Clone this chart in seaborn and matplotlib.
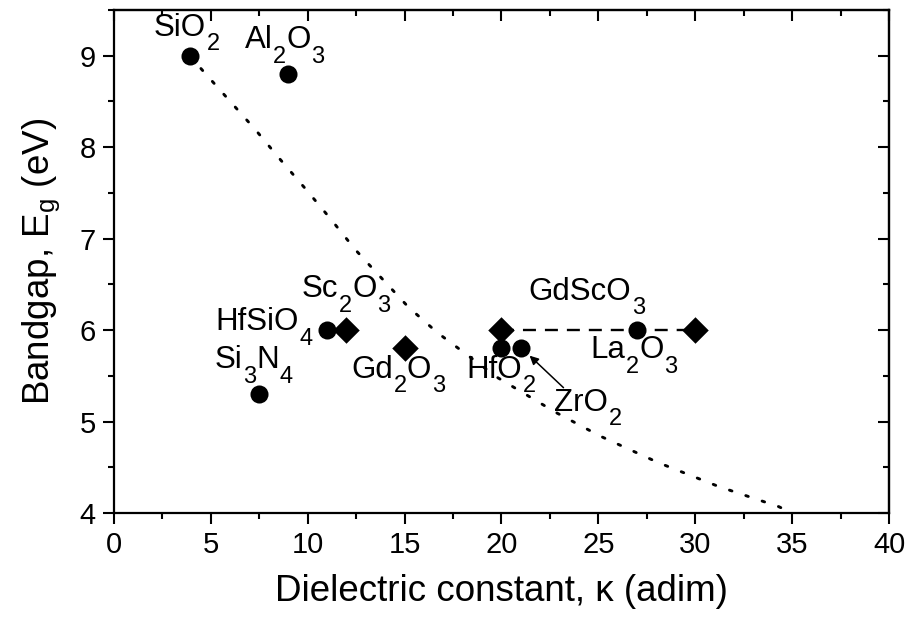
import matplotlib
matplotlib.use('Agg')
import matplotlib.pyplot as plt
from matplotlib.ticker import MultipleLocator
import seaborn as sns

# Oxides plotted as circles
circle_k = [3.9, 9.0, 7.5, 11.0, 20.0, 21.0, 27.0]
circle_eg = [9.0, 8.8, 5.3, 6.0, 5.8, 5.8, 6.0]

# Oxides plotted as diamonds (Sc2O3, Gd2O3, GdScO3 x2)
diamond_k = [12.0, 15.0, 20.0, 30.0]
diamond_eg = [6.0, 5.8, 6.0, 6.0]

# GdScO3 range (dashed)
gdsco_k = [20.0, 30.0]
gdsco_eg = [6.0, 6.0]

# Trend curve (dotted)
curve_k = [3.9, 4.65, 7.3, 8.6, 9.9, 11.2, 12.45, 13.1, 15.2, 16.7, 19.8, 22.8, 25.1, 28.1, 31.2, 34.3, 35.0]
curve_eg = [9.0, 8.82, 8.19, 7.86, 7.54, 7.21, 6.88, 6.73, 6.25, 5.97, 5.48, 5.10, 4.84, 4.55, 4.29, 4.07, 4.0]

# label pieces (normal, sub, normal, sub...) and where they sit (left, baseline)
labels = [
    (['SiO', '2'], 2.05, 9.22),
    (['Al', '2', 'O', '3'], 6.75, 9.08),
    (['Sc', '2', 'O', '3'], 9.7, 6.36),
    (['HfSiO', '4'], 5.25, 6.0),
    (['Si', '3', 'N', '4'], 5.2, 5.58),
    (['Gd', '2', 'O', '3'], 12.25, 5.48),
    (['HfO', '2'], 18.2, 5.48),
    (['ZrO', '2'], 22.7, 5.12),
    (['GdScO', '3'], 21.4, 6.33),
    (['La', '2', 'O', '3'], 24.6, 5.69),
]

MAIN_FS = 22.5
SUB_FS = 17
SUB_DROP = 10.5  # points below the baseline


def chem_label(ax, parts, x, y):
    prev = ax.text(x, y, parts[0], fontsize=MAIN_FS, ha='left', va='baseline')
    for i, p in enumerate(parts[1:], 1):
        sub = i % 2 == 1
        prev = ax.annotate(p, xy=(1, y), xycoords=(prev, 'data'),
                           xytext=(0.5 if sub else 0, -SUB_DROP if sub else 0),
                           textcoords='offset points',
                           fontsize=SUB_FS if sub else MAIN_FS,
                           ha='left', va='baseline')


sns.set_style('ticks')
plt.rcParams['font.family'] = ['Liberation Sans', 'DejaVu Sans']
plt.rcParams['mathtext.default'] = 'regular'
plt.rcParams['text.color'] = 'black'
plt.rcParams['axes.labelcolor'] = 'black'
plt.rcParams['xtick.color'] = 'black'
plt.rcParams['ytick.color'] = 'black'

fig, ax = plt.subplots(figsize=(9.09, 6.2), dpi=100)
fig.subplots_adjust(left=0.1254, right=0.978, bottom=0.1726, top=0.984)

sns.lineplot(x=curve_k, y=curve_eg, ax=ax, color='black', lw=2.1,
             linestyle=(0, (0.9, 5.0)), dash_capstyle='round', sort=False)
sns.lineplot(x=gdsco_k, y=gdsco_eg, ax=ax, color='black', lw=1.7,
             linestyle=(0, (5.5, 3.8)))
sns.scatterplot(x=circle_k, y=circle_eg, ax=ax, marker='o', s=13**2,
                color='black', edgecolor='black', linewidth=0, zorder=5)
sns.scatterplot(x=diamond_k, y=diamond_eg, ax=ax, marker='D', s=13.5**2,
                color='black', edgecolor='black', linewidth=0, zorder=5)

for parts, lx, ly in labels:
    chem_label(ax, parts, lx, ly)

# arrow from the ZrO2 label to its point
ax.annotate('', xy=(21.45, 5.72), xytext=(23.2, 5.37),
            arrowprops=dict(arrowstyle='-|>', color='black', lw=1.1,
                            mutation_scale=13, shrinkA=0, shrinkB=0))

ax.set_xlim(0, 40)
ax.set_ylim(4, 9.5)
ax.xaxis.set_major_locator(MultipleLocator(5))
ax.xaxis.set_minor_locator(MultipleLocator(2.5))
ax.yaxis.set_major_locator(MultipleLocator(1))
ax.yaxis.set_minor_locator(MultipleLocator(0.5))

ax.set_xlabel('Dielectric constant, κ (adim)', fontsize=26.5, labelpad=11)
ax.set_ylabel('Bandgap, E$_g$ (eV)', fontsize=26.5, labelpad=13)

for sp in ax.spines.values():
    sp.set_visible(True)
    sp.set_linewidth(1.6)
    sp.set_color('black')

ax.tick_params(axis='both', which='major', direction='out', length=8, width=1.5,
               labelsize=21, colors='black', top=False, right=False, pad=5)
ax.tick_params(axis='both', which='minor', direction='out', length=4.5, width=1.5,
               top=False, right=False)

# mirrored ticks pointing inward on top and right
secx = ax.secondary_xaxis('top')
secx.xaxis.set_major_locator(MultipleLocator(5))
secx.xaxis.set_minor_locator(MultipleLocator(2.5))
secx.tick_params(which='major', direction='in', length=8, width=1.5, labeltop=False)
secx.tick_params(which='minor', direction='in', length=4.5, width=1.5)
secx.spines['top'].set_linewidth(1.6)

secy = ax.secondary_yaxis('right')
secy.yaxis.set_major_locator(MultipleLocator(1))
secy.yaxis.set_minor_locator(MultipleLocator(0.5))
secy.tick_params(which='major', direction='in', length=8, width=1.5, labelright=False)
secy.tick_params(which='minor', direction='in', length=4.5, width=1.5)
secy.spines['right'].set_linewidth(1.6)

plt.savefig('out.png', dpi=100)
